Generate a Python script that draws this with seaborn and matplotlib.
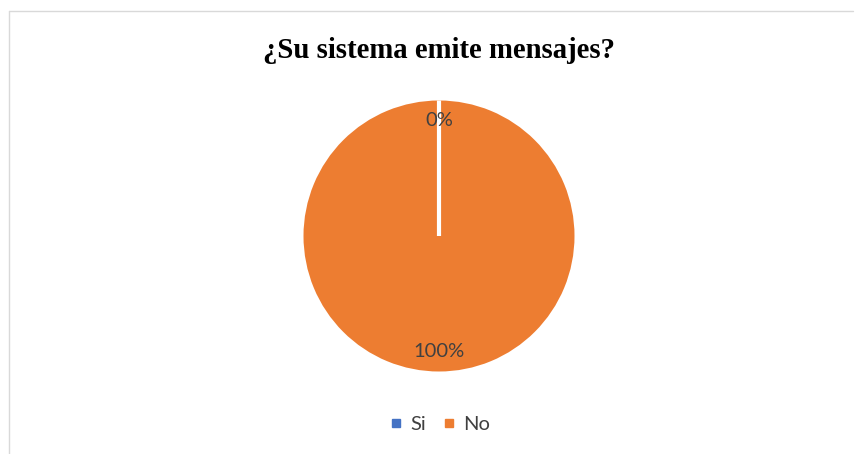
import matplotlib
matplotlib.use("Agg")
import matplotlib.pyplot as plt
from matplotlib.lines import Line2D
import seaborn as sns

# Survey answers
categories = ["Si", "No"]
values = [0, 100]
title = "¿Su sistema emite mensajes?"

sns.set_theme(style="white")
colors = ["#4472C4", "#ED7D31"]
plt.rcParams["font.family"] = ["Lato", "DejaVu Sans"]

W, H, DPI = 855, 454, 100
fig = plt.figure(figsize=(W / DPI, H / DPI), dpi=DPI)
fig.patch.set_facecolor("white")

# Pie axes: centre (439, 236) px, radius ~135.5 px
cx, cy, r = 439, 236, 135.5
ax = fig.add_axes([(cx - r) / W, (H - cy - r) / H, 2 * r / W, 2 * r / H])

wedges, texts, autotexts = ax.pie(
    values,
    colors=colors,
    startangle=90,
    counterclock=False,
    autopct=lambda p: f"{p:.0f}%",
    pctdistance=0.85,
    wedgeprops=dict(edgecolor="white", linewidth=3),
    textprops=dict(color="#404040", fontsize=14.5),
)
# Slice borders: keep the outer rim clean, show the separator of the empty slice
for w, v in zip(wedges, values):
    if v == 0:
        w.set_zorder(5)
    else:
        w.set_linewidth(0)
for t in autotexts:
    t.set_zorder(6)

ax.set_xlim(-1, 1)
ax.set_ylim(-1, 1)
ax.set_aspect("equal")
ax.axis("off")

fig.text(cx / W, 1 - 51 / H, title, ha="center", va="center",
         fontsize=20.7, fontweight="bold", family="Liberation Serif",
         color="black")

handles = [Line2D([0], [0], marker="s", linestyle="none", markersize=6,
                  markerfacecolor=c, markeredgecolor=c) for c in colors]
fig.legend(handles, categories, loc="center", bbox_to_anchor=(cx / W, 1 - 424 / H),
           ncol=2, frameon=False, fontsize=14.5, handletextpad=0.3,
           columnspacing=0.75, labelcolor="#404040", handlelength=0.8)

# Chart area frame (top and left edges)
fig.add_artist(Line2D([8.5 / W, 853 / W], [1 - 10.5 / H, 1 - 10.5 / H],
                      color="#D9D9D9", linewidth=1.0, transform=fig.transFigure))
fig.add_artist(Line2D([8.5 / W, 8.5 / W], [1 - 10.5 / H, 0],
                      color="#D9D9D9", linewidth=1.0, transform=fig.transFigure))

fig.savefig("out.png", dpi=DPI, facecolor="white")
